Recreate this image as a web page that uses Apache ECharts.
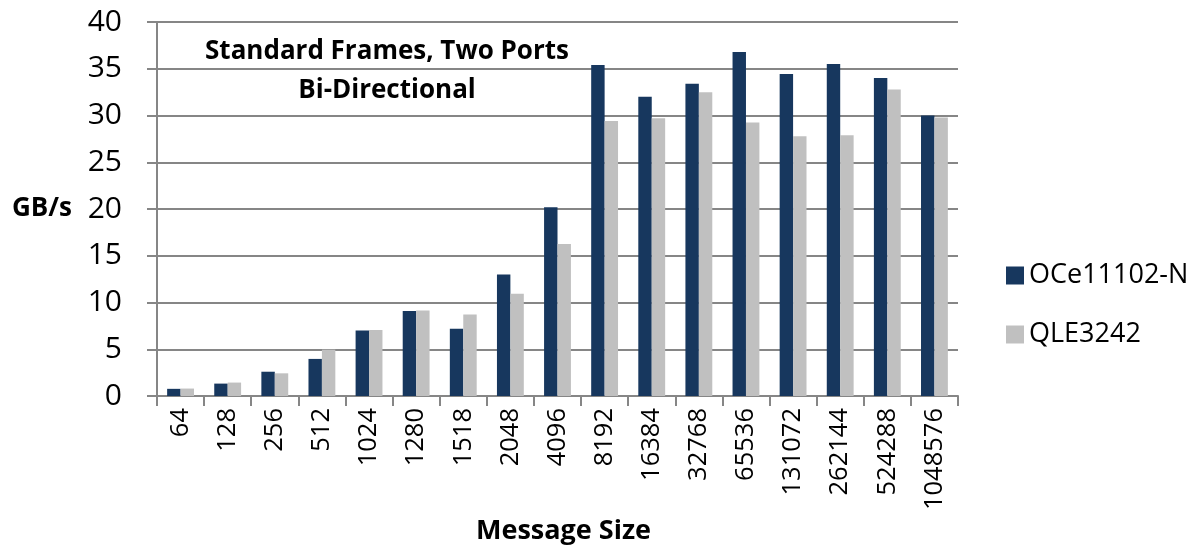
<!DOCTYPE html>
<html>
<head>
<meta charset="utf-8">
<script src="https://cdn.jsdelivr.net/npm/echarts@6/dist/echarts.min.js"></script>
<style>
  html, body { margin: 0; padding: 0; background: #ffffff; }
  #chart { width: 1199px; height: 550px; }
</style>
</head>
<body>
<div id="chart"></div>
<script>
const categories = ['64', '128', '256', '512', '1024', '1280', '1518', '2048', '4096', '8192', '16384', '32768', '65536', '131072', '262144', '524288', '1048576'];
const oce11102n = [0.77, 1.33, 2.6, 3.97, 7.0, 9.1, 7.2, 13.0, 20.2, 35.4, 32.0, 33.4, 36.8, 34.45, 35.5, 34.0, 30.0];
const qle3242 = [0.8, 1.44, 2.43, 4.96, 7.05, 9.15, 8.72, 10.93, 16.26, 29.4, 29.7, 32.5, 29.26, 27.77, 27.88, 32.78, 29.8];
const seriesNames = ['OCe11102-N', 'QLE3242'];
const titleLines = ['Standard Frames, Two Ports', 'Bi-Directional'];

const FONT = '"Open Sans", Lato, sans-serif';
const chart = echarts.init(document.getElementById('chart'), null, { renderer: 'canvas' });

chart.setOption({
  animation: false,
  backgroundColor: '#ffffff',
  title: {
    text: titleLines.join('\n'),
    left: 382,
    top: 27,
    textAlign: 'center',
    textStyle: { fontFamily: FONT, fontSize: 26, fontWeight: 'bold', color: '#000', lineHeight: 39 }
  },
  legend: {
    orient: 'vertical',
    left: 1001,
    top: 257,
    itemWidth: 18,
    itemHeight: 18,
    itemGap: 32,
    icon: 'rect',
    textStyle: { fontFamily: FONT, fontSize: 27, color: '#000', lineHeight: 24, padding: [0, 0, 0, 0] },
    data: seriesNames
  },
  grid: { left: 157, right: 241, top: 22, bottom: 152, containLabel: false },
  xAxis: {
    type: 'category',
    data: categories,
    name: 'Message Size',
    nameLocation: 'middle',
    nameGap: 135,
    nameTextStyle: { fontFamily: FONT, fontSize: 27, fontWeight: 'bold', color: '#000', verticalAlign: 'middle', padding: [0, 0, 0, 12] },
    axisLine: { lineStyle: { color: '#868686', width: 2 } },
    axisTick: { show: true, alignWithLabel: false, length: 10, lineStyle: { color: '#868686', width: 2 } },
    axisLabel: { rotate: 90, fontFamily: FONT, fontSize: 25.5, color: '#000', margin: 12, interval: 0 }
  },
  yAxis: {
    type: 'value',
    min: 0,
    max: 40,
    interval: 5,
    name: 'GB/s',
    nameLocation: 'middle',
    nameRotate: 0,
    nameGap: 85,
    nameTextStyle: { fontFamily: FONT, fontSize: 26, fontWeight: 'bold', color: '#000', align: 'right', verticalAlign: 'middle', padding: [24, 0, 0, 0] },
    axisLine: { show: true, lineStyle: { color: '#868686', width: 2 } },
    axisTick: { show: true, length: 10, lineStyle: { color: '#868686', width: 2 } },
    axisLabel: { fontFamily: FONT, fontSize: 30, color: '#000', margin: 35 },
    splitLine: { show: true, lineStyle: { color: '#868686', width: 2 } }
  },
  series: [
    {
      name: seriesNames[0],
      type: 'bar',
      data: oce11102n,
      barGap: '0%',
      barCategoryGap: '43%',
      itemStyle: { color: '#17375E' }
    },
    {
      name: seriesNames[1],
      type: 'bar',
      data: qle3242,
      barGap: '0%',
      barCategoryGap: '43%',
      itemStyle: { color: '#C0C0C0' }
    }
  ]
});
</script>
</body>
</html>
